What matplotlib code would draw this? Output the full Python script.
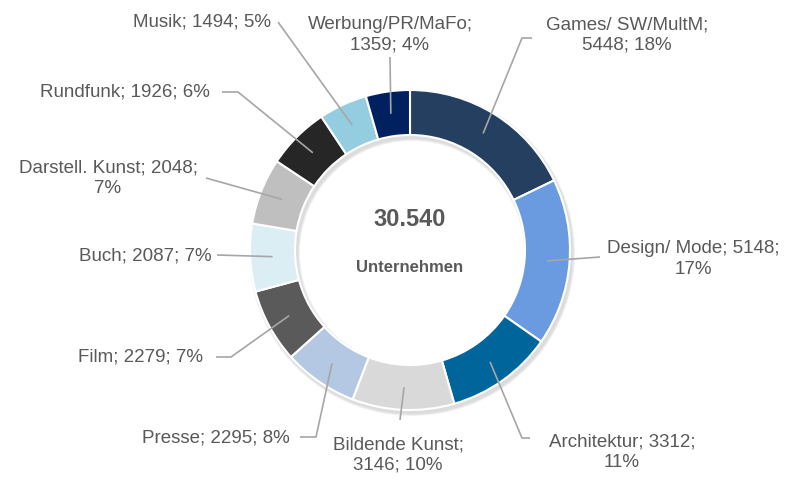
import numpy as np
import matplotlib.pyplot as plt

# # DATA

sectors = ["Games/ SW/MultM", "Design/ Mode", "Architektur", "Bildende Kunst", "Presse",
           "Film", "Buch", "Darstell. Kunst", "Rundfunk", "Musik", "Werbung/PR/MaFo"]
companies = [5448, 5148, 3312, 3146, 2295, 2279, 2087, 2048, 1926, 1494, 1359]
shares = ["18%", "17%", "11%", "10%", "8%", "7%", "7%", "7%", "6%", "5%", "4%"]
total_label = "30.540"
unit_label = "Unternehmen"

colors = ["#243F60", "#6A9BE0", "#00659B", "#D9D9D9", "#B4C8E3", "#5A5A5A",
          "#DBEEF4", "#BFBFBF", "#262626", "#93CDDF", "#002060"]

# label text, label centre (px from top-left), elbow points near the label (px)
label_texts = ["Games/ SW/MultM;\n5448; 18%", "Design/ Mode; 5148;\n17%", "Architektur; 3312;\n11%",
               "Bildende Kunst;\n3146; 10%", "Presse; 2295; 8%", "Film; 2279; 7%", "Buch; 2087; 7%",
               "Darstell. Kunst; 2048;\n7%", "Rundfunk; 1926; 6%", "Musik; 1494; 5%",
               "Werbung/PR/MaFo;\n1359; 4%"]
label_pos = [(627, 35), (693, 259), (622, 452), (398, 455), (216, 438), (141, 357), (145, 256),
             (108, 178), (125, 92), (202, 22), (390, 35)]
elbows = [[(522, 38), (532, 38)], [(600, 257)], [(522, 438), (530, 438)], [(400, 420)],
          [(316, 437), (300, 437)], [(231, 357), (216, 357)], [(217, 255)],
          [(206, 178)], [(238, 92), (222, 92)], [(278, 22)], [(390, 57)]]

# # LAYOUT

W, H = 786, 484
cx, cy = 410, H - 250
r_out, r_in = 160, 115

plt.rcParams['font.family'] = ['Liberation Sans Narrow', 'Liberation Sans', 'DejaVu Sans']
text_color = "#595959"
line_color = "#A6A6A6"

fig = plt.figure(figsize=(W / 100, H / 100), dpi=100)
ax = fig.add_axes([0, 0, 1, 1])
ax.set_xlim(0, W)
ax.set_ylim(0, H)
ax.set_aspect("equal")
ax.axis("off")

# soft shadow behind the ring
for k, a in enumerate([0.05, 0.05, 0.04]):
    ax.pie([1], radius=r_out + 3 - k, center=(cx + 2, cy - 3), colors=["#000000"],
           wedgeprops=dict(width=r_out - r_in + 6 - 2 * k, alpha=a, linewidth=0))

wedges, _ = ax.pie(companies, radius=r_out, center=(cx, cy), colors=colors,
                   startangle=90, counterclock=False,
                   wedgeprops=dict(width=r_out - r_in, edgecolor="white", linewidth=1.5))
ax.set_xlim(0, W)
ax.set_ylim(0, H)

# # LABELS AND LEADER LINES

r_mid = (r_out + r_in) / 2
for w, txt, pos, elb in zip(wedges, label_texts, label_pos, elbows):
    ang = np.deg2rad((w.theta1 + w.theta2) / 2)
    xs = [cx + r_mid * np.cos(ang)] + [p[0] for p in elb]
    ys = [cy + r_mid * np.sin(ang)] + [H - p[1] for p in elb]
    ax.plot(xs, ys, color=line_color, lw=1.2, solid_capstyle="butt")
    ax.text(pos[0], H - pos[1], txt, ha="center", va="center", fontsize=13.5,
            color=text_color, linespacing=1.3)

ax.text(cx, cy + 31, total_label, ha="center", va="center", fontsize=17,
        fontweight="bold", color=text_color)
ax.text(cx, cy - 18, unit_label, ha="center", va="center", fontsize=12,
        fontweight="bold", color=text_color)

fig.savefig("out.png", dpi=100)
